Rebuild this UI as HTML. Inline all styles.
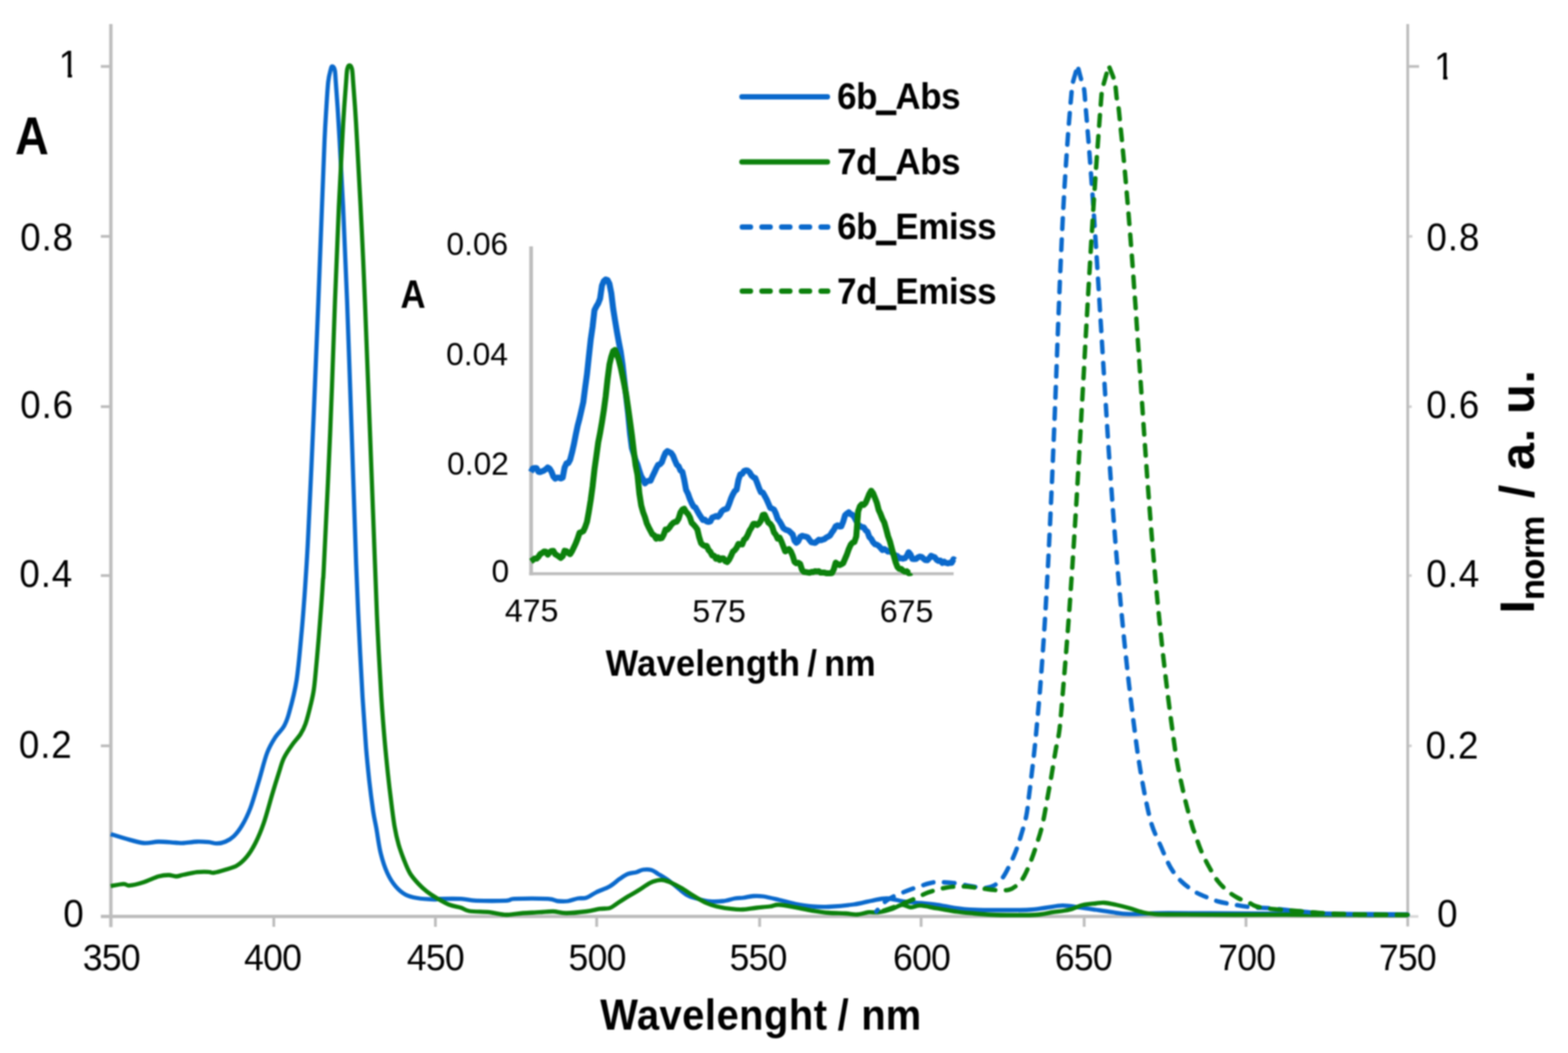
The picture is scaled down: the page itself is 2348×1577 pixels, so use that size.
<!DOCTYPE html>
<html lang="en"><head><meta charset="utf-8"><title>Absorption and emission spectra</title>
<style>
html,body{margin:0;padding:0;background:#fff;}
body{width:2348px;height:1577px;overflow:hidden;}
svg{display:block;filter:blur(1.30px);}
text{font-family:"Liberation Sans",Arial,Helvetica,sans-serif;fill:#000;}
.b{font-weight:bold;}
.ln{fill:none;stroke-linejoin:round;stroke-linecap:butt;}
.rd{stroke-linecap:round;}
</style></head><body>
<svg xmlns="http://www.w3.org/2000/svg" width="2348" height="1577" viewBox="0 0 2348 1577">
<rect x="-20" y="-20" width="2388" height="1617" fill="#fff"/>
<g stroke="#bdbdbd" stroke-width="5" fill="none">
<path d="M166.0 36V1388.5"/>
<path d="M151.0 1372.5H2108.0"/>
</g>
<g stroke="#bdbdbd" stroke-width="4.2" fill="none">
<path d="M2108.0 36V1387.5"/>
<path d="M410.0 1372.5v15.5"/>
<path d="M652.0 1372.5v15.5"/>
<path d="M893.5 1372.5v15.5"/>
<path d="M1137.5 1372.5v15.5"/>
<path d="M1379.3 1372.5v15.5"/>
<path d="M1623.5 1372.5v15.5"/>
<path d="M1865.8 1372.5v15.5"/>
<path d="M166.0 1117.0h-15"/>
<path d="M166.0 862.0h-15"/>
<path d="M166.0 609.0h-15"/>
<path d="M166.0 354.0h-15"/>
<path d="M166.0 99.5h-15"/>
</g>
<g stroke="#bdbdbd" stroke-width="4" fill="none">
<path d="M2108.0 1372.5h16" opacity="0.6"/>
<path d="M2108.0 1117.0h6" opacity="0.7"/>
<path d="M2108.0 862.0h6" opacity="0.7"/>
<path d="M2108.0 609.0h6" opacity="0.7"/>
<path d="M2108.0 354.0h7" opacity="0.7"/>
<path d="M2108.0 99.5h17" opacity="1.0"/>
</g>
<clipPath id="cpL1"><path d="M-39.95 -58.00H24.05V-5.68H-12.96V3H-19.69V-5.68H-39.95Z"/></clipPath>
<text id="L1" transform="translate(120.10 115.80) scale(0.950 1)" text-anchor="end" font-size="58.0" letter-spacing="1.70" clip-path="url(#cpL1)">1</text>
<text id="L08" transform="translate(110.75 375.00) scale(0.950 1)" text-anchor="end" font-size="58.0" letter-spacing="1.41">0.8</text>
<text id="L06" transform="translate(110.75 625.60) scale(0.950 1)" text-anchor="end" font-size="58.0" letter-spacing="1.41">0.6</text>
<text id="L04" transform="translate(109.50 879.00) scale(0.950 1)" text-anchor="end" font-size="58.0" letter-spacing="1.41">0.4</text>
<text id="L02" transform="translate(108.75 1134.80) scale(0.950 1)" text-anchor="end" font-size="58.0" letter-spacing="1.41">0.2</text>
<text id="L0" transform="translate(127.05 1388.00) scale(0.950 1)" text-anchor="end" font-size="58.0" letter-spacing="1.70">0</text>
<clipPath id="cpR1"><path d="M-6.00 -58.00H58.00V-5.68H21.00V3H14.27V-5.68H-6.00Z"/></clipPath>
<text id="R1" transform="translate(2147.50 118.85) scale(0.950 1)" text-anchor="start" font-size="58.0" letter-spacing="1.70" clip-path="url(#cpR1)">1</text>
<text id="R08" transform="translate(2136.05 375.00) scale(0.950 1)" text-anchor="start" font-size="58.0" letter-spacing="1.41">0.8</text>
<text id="R06" transform="translate(2135.80 625.85) scale(0.950 1)" text-anchor="start" font-size="58.0" letter-spacing="1.41">0.6</text>
<text id="R04" transform="translate(2135.80 878.50) scale(0.950 1)" text-anchor="start" font-size="58.0" letter-spacing="1.41">0.4</text>
<text id="R02" transform="translate(2134.65 1136.00) scale(0.950 1)" text-anchor="start" font-size="58.0" letter-spacing="1.41">0.2</text>
<text id="R0" transform="translate(2152.00 1388.00) scale(0.950 1)" text-anchor="start" font-size="58.0" letter-spacing="1.70">0</text>
<text id="x350" transform="translate(166.72 1453.00) scale(0.950 1)" text-anchor="middle" font-size="56.0" letter-spacing="-1.10">350</text>
<text id="x400" transform="translate(408.20 1453.00) scale(0.950 1)" text-anchor="middle" font-size="56.0" letter-spacing="-1.10">400</text>
<text id="x450" transform="translate(652.00 1453.00) scale(0.950 1)" text-anchor="middle" font-size="56.0" letter-spacing="-1.10">450</text>
<text id="x500" transform="translate(894.15 1453.00) scale(0.950 1)" text-anchor="middle" font-size="56.0" letter-spacing="-1.10">500</text>
<text id="x550" transform="translate(1135.30 1453.00) scale(0.950 1)" text-anchor="middle" font-size="56.0" letter-spacing="-1.10">550</text>
<text id="x600" transform="translate(1380.05 1453.00) scale(0.950 1)" text-anchor="middle" font-size="56.0" letter-spacing="-1.10">600</text>
<text id="x650" transform="translate(1622.28 1453.00) scale(0.950 1)" text-anchor="middle" font-size="56.0" letter-spacing="-1.10">650</text>
<text id="x700" transform="translate(1867.05 1453.00) scale(0.950 1)" text-anchor="middle" font-size="56.0" letter-spacing="-1.10">700</text>
<text id="x750" transform="translate(2107.50 1453.00) scale(0.950 1)" text-anchor="middle" font-size="56.0" letter-spacing="-1.10">750</text>
<text id="i006" transform="translate(761.00 382.28)" text-anchor="end" font-size="47.5">0.06</text>
<text id="i004" transform="translate(760.55 546.50)" text-anchor="end" font-size="47.5">0.04</text>
<text id="i002" transform="translate(762.00 711.28)" text-anchor="end" font-size="47.5">0.02</text>
<text id="i0" transform="translate(762.50 872.00)" text-anchor="end" font-size="47.5">0</text>
<text id="i475" transform="translate(796.10 931.30)" text-anchor="middle" font-size="48.0">475</text>
<text id="i575" transform="translate(1076.90 931.50)" text-anchor="middle" font-size="48.0">575</text>
<text id="i675" transform="translate(1357.60 931.50)" text-anchor="middle" font-size="48.0">675</text>
<text id="xtitle" class="b" transform="translate(898.70 1542.00) scale(0.935 1)" font-size="64" word-spacing="3.7"><tspan letter-spacing="0.75">Wavelenght</tspan><tspan dx="-5.3"> / </tspan><tspan dx="-1.4">nm</tspan></text>
<text id="rtitle" class="b" transform="translate(2297 919) rotate(-90)" font-size="73"><tspan>I</tspan><tspan font-size="52" dy="14.5" letter-spacing="-1.2">norm</tspan><tspan dy="-14.5" dx="6" letter-spacing="0.9"> / a. u.</tspan></text>
<text id="A" class="b" transform="translate(47.80 230.50) scale(0.875 1)" font-size="80" text-anchor="middle">A</text>
<path d="M795.3 369V861.5" stroke="#bdbdbd" stroke-width="5.6" fill="none"/>
<path d="M792.5 859.3H1428" stroke="#bdbdbd" stroke-width="4.6" fill="none"/>
<text id="ititle" class="b" transform="translate(907.00 1011.70) scale(0.935 1)" font-size="55" letter-spacing="-0.2"><tspan letter-spacing="0.5">Wavelength</tspan><tspan dx="-3.7"> / </tspan><tspan dx="-3.2">nm</tspan></text>
<text id="iA" class="b" transform="translate(618.60 460.50) scale(0.88 1)" font-size="59" text-anchor="middle">A</text>
<path class="ln" stroke="#0a69cc" stroke-width="9.0" d="M795.0 706.9L797.8 701.6L800.6 700.9L803.4 701.0L806.2 706.5L809.0 707.1L811.8 705.7L814.6 704.7L817.4 702.7L820.2 700.1L823.0 701.8L825.8 706.3L828.6 713.6L831.4 716.9L834.2 715.3L837.0 715.3L839.8 716.5L842.6 715.3L845.4 700.4L848.2 694.0L851.0 693.5L853.8 688.3L856.6 677.7L859.4 665.3L862.2 650.9L865.0 637.6L867.8 627.0L870.6 614.8L873.4 602.6L876.2 580.7L879.0 560.4L881.8 533.9L884.6 508.3L887.4 489.1L890.2 464.5L893.0 458.9L895.8 454.3L898.6 447.2L901.4 427.7L904.2 420.9L907.0 418.6L909.8 419.5L912.6 425.1L915.4 439.1L918.2 462.3L921.0 479.9L923.8 496.8L926.6 512.1L929.4 526.4L932.2 545.6L935.0 570.7L937.8 595.0L940.6 619.2L943.4 648.9L946.2 670.9L949.0 679.8L951.8 689.2L954.6 695.8L957.4 705.3L960.2 713.4L963.0 717.9L965.8 723.9L968.6 721.0L971.4 720.0L974.2 719.9L977.0 713.5L979.8 707.8L982.6 701.6L985.4 696.3L988.2 695.3L991.0 692.4L993.8 684.6L996.6 678.1L999.4 675.6L1002.2 677.0L1005.0 678.5L1007.8 682.3L1010.6 689.5L1013.4 695.8L1016.2 698.3L1019.0 704.7L1021.8 706.5L1024.6 718.6L1027.4 733.7L1030.2 739.3L1033.0 747.2L1035.8 753.5L1038.6 758.7L1041.4 760.1L1044.2 765.3L1047.0 770.2L1049.8 774.5L1052.6 778.8L1055.4 778.3L1058.2 780.8L1061.0 781.6L1063.8 780.7L1066.6 775.0L1069.4 774.2L1072.2 772.7L1075.0 773.9L1077.8 771.2L1080.6 766.0L1083.4 763.5L1086.2 762.7L1089.0 761.5L1091.8 754.8L1094.6 746.7L1097.4 740.4L1100.2 735.5L1103.0 733.4L1105.8 718.6L1108.6 710.3L1111.4 709.6L1114.2 705.5L1117.0 704.4L1119.8 705.0L1122.6 707.5L1125.4 712.2L1128.2 714.8L1131.0 716.0L1133.8 723.1L1136.6 730.8L1139.4 737.3L1142.2 737.4L1145.0 742.5L1147.8 747.6L1150.6 754.0L1153.4 760.5L1156.2 761.6L1159.0 763.1L1161.8 769.0L1164.6 777.3L1167.4 780.8L1170.2 785.6L1173.0 790.9L1175.8 792.9L1178.6 793.9L1181.4 795.1L1184.2 797.7L1187.0 800.5L1189.8 809.8L1192.6 812.9L1195.4 810.5L1198.2 804.3L1201.0 802.4L1203.8 803.1L1206.6 803.6L1209.4 804.7L1212.2 808.7L1215.0 812.1L1217.8 812.6L1220.6 813.1L1223.4 810.8L1226.2 808.2L1229.0 809.1L1231.8 808.2L1234.6 807.4L1237.4 805.0L1240.2 803.7L1243.0 801.9L1245.8 797.2L1248.6 793.5L1251.4 788.2L1254.2 786.7L1257.0 788.6L1259.8 788.2L1262.6 781.4L1265.4 771.8L1268.2 769.1L1271.0 767.2L1273.8 770.1L1276.6 771.1L1279.4 774.8L1282.2 780.0L1285.0 785.8L1287.8 787.7L1290.6 789.4L1293.4 789.8L1296.2 794.1L1299.0 796.5L1301.8 804.3L1304.6 807.0L1307.4 812.0L1310.2 815.1L1313.0 815.7L1315.8 817.5L1318.6 820.5L1321.4 823.7L1324.2 822.2L1327.0 824.0L1329.8 826.1L1332.6 825.7L1335.4 827.1L1338.2 830.0L1341.0 831.8L1343.8 832.8L1346.6 836.2L1349.4 835.9L1352.2 836.7L1355.0 836.0L1357.8 832.8L1360.6 827.0L1363.4 830.3L1366.2 837.1L1369.0 837.3L1371.8 837.1L1374.6 834.8L1377.4 833.5L1380.2 834.2L1383.0 836.7L1385.8 838.8L1388.6 839.0L1391.4 836.1L1394.2 832.4L1397.0 833.7L1399.8 834.6L1402.6 838.4L1405.4 840.1L1408.2 839.5L1411.0 843.0L1413.8 841.1L1416.6 843.0L1419.4 843.7L1422.2 842.8L1425.0 843.0L1427.8 837.4L1430.0 839.1"/>
<path class="ln" stroke="#0c810c" stroke-width="9.0" d="M795.0 840.7L797.8 838.8L800.6 836.5L803.4 836.6L806.2 834.0L809.0 829.7L811.8 828.2L814.6 826.0L817.4 826.3L820.2 830.7L823.0 827.2L825.8 825.2L828.6 825.0L831.4 829.9L834.2 831.6L837.0 833.5L839.8 835.5L842.6 833.0L845.4 824.9L848.2 825.4L851.0 828.1L853.8 829.9L856.6 825.4L859.4 819.6L862.2 813.6L865.0 806.5L867.8 798.0L870.6 796.8L873.4 795.5L876.2 789.5L879.0 781.4L881.8 765.9L884.6 748.6L887.4 728.1L890.2 702.9L893.0 683.2L895.8 662.6L898.6 648.3L901.4 632.3L904.2 614.4L907.0 593.5L909.8 567.7L912.6 546.1L915.4 534.1L918.2 525.8L921.0 524.1L923.8 530.9L926.6 538.6L929.4 549.8L932.2 563.0L935.0 576.8L937.8 591.9L940.6 610.9L943.4 630.8L946.2 651.7L949.0 675.3L951.8 696.8L954.6 711.2L957.4 739.1L960.2 757.0L963.0 767.0L965.8 774.5L968.6 783.9L971.4 789.8L974.2 795.1L977.0 800.3L979.8 801.8L982.6 806.8L985.4 804.1L988.2 806.4L991.0 805.9L993.8 800.8L996.6 793.1L999.4 793.3L1002.2 790.4L1005.0 786.2L1007.8 783.3L1010.6 781.8L1013.4 781.3L1016.2 776.6L1019.0 767.4L1021.8 763.2L1024.6 762.0L1027.4 766.8L1030.2 769.6L1033.0 774.6L1035.8 783.2L1038.6 785.7L1041.4 788.9L1044.2 792.8L1047.0 804.7L1049.8 813.5L1052.6 816.1L1055.4 817.7L1058.2 817.5L1061.0 823.6L1063.8 826.6L1066.6 832.0L1069.4 832.3L1072.2 837.0L1075.0 834.8L1077.8 838.8L1080.6 836.2L1083.4 836.2L1086.2 840.4L1089.0 841.8L1091.8 838.3L1094.6 832.8L1097.4 826.3L1100.2 824.0L1103.0 820.4L1105.8 814.5L1108.6 815.3L1111.4 815.3L1114.2 808.2L1117.0 806.0L1119.8 800.9L1122.6 794.4L1125.4 790.1L1128.2 784.4L1131.0 784.5L1133.8 786.3L1136.6 784.0L1139.4 779.9L1142.2 771.2L1145.0 770.8L1147.8 777.1L1150.6 782.8L1153.4 784.6L1156.2 788.6L1159.0 797.4L1161.8 800.8L1164.6 806.8L1167.4 805.1L1170.2 811.1L1173.0 818.3L1175.8 825.7L1178.6 824.2L1181.4 822.4L1184.2 825.8L1187.0 832.2L1189.8 841.5L1192.6 843.5L1195.4 842.8L1198.2 844.6L1201.0 853.4L1203.8 856.6L1206.6 856.7L1209.4 857.3L1212.2 857.7L1215.0 856.6L1217.8 856.7L1220.6 855.5L1223.4 855.9L1226.2 855.5L1229.0 857.6L1231.8 857.6L1234.6 857.6L1237.4 858.4L1240.2 858.4L1243.0 858.4L1245.8 858.2L1248.6 852.5L1251.4 842.6L1254.2 844.5L1257.0 846.3L1259.8 845.1L1262.6 843.4L1265.4 836.9L1268.2 830.4L1271.0 822.3L1273.8 816.0L1276.6 812.7L1279.4 811.8L1282.2 803.4L1285.0 766.1L1287.8 758.1L1290.6 755.2L1293.4 756.1L1296.2 753.1L1299.0 746.5L1301.8 739.5L1304.6 734.9L1307.4 738.6L1310.2 745.7L1313.0 752.9L1315.8 763.9L1318.6 769.8L1321.4 777.2L1324.2 782.5L1327.0 792.4L1329.8 803.0L1332.6 810.7L1335.4 821.3L1338.2 831.5L1341.0 841.6L1343.8 848.9L1346.6 852.0L1349.4 852.0L1352.2 854.6L1355.0 856.1L1357.8 855.6L1360.6 858.4L1363.4 858.3L1364.0 857.6"/>
<path class="ln" stroke="#0a69cc" stroke-width="6.3" d="M165.8 1249.2C169.4 1250.3 179.3 1253.5 187.5 1255.8C195.7 1258.0 206.7 1261.7 215.0 1262.5C223.3 1263.3 229.6 1260.6 237.5 1260.5C245.4 1260.4 256.2 1261.7 262.5 1262.0C268.8 1262.3 269.6 1262.8 275.0 1262.5C280.4 1262.2 288.8 1260.7 295.0 1260.5C301.2 1260.3 307.5 1260.8 312.5 1261.2C317.5 1261.7 320.8 1263.4 325.0 1263.2C329.2 1263.1 333.3 1262.3 337.5 1260.5C341.7 1258.7 345.8 1256.5 350.0 1252.5C354.2 1248.5 358.3 1243.3 362.5 1236.2C366.7 1229.2 370.8 1221.0 375.0 1210.0C379.2 1199.0 383.3 1183.8 387.5 1170.0C391.7 1156.2 395.8 1138.5 400.0 1127.5C404.2 1116.5 408.3 1110.3 412.5 1103.8C416.7 1097.2 421.7 1093.8 425.0 1088.0C428.3 1082.2 429.3 1080.5 432.5 1069.0C435.7 1057.5 440.9 1039.8 444.1 1019.0C447.3 998.2 449.9 964.8 451.9 944.0C453.8 923.2 454.6 910.7 455.9 894.0C457.1 877.3 458.2 859.7 459.2 844.0C460.1 828.3 460.5 823.7 461.6 800.0C462.8 776.3 464.6 739.2 466.2 702.0C467.9 664.8 469.9 618.7 471.6 577.0C473.3 535.3 474.9 496.5 476.7 452.0C478.4 407.5 480.5 350.3 482.1 310.0C483.6 269.7 484.9 235.0 486.0 210.0C487.1 185.0 487.9 174.6 488.8 160.0C489.7 145.4 490.5 131.7 491.5 122.5C492.5 113.3 494.0 108.8 495.0 105.0C496.0 101.2 496.4 99.5 497.5 99.5C498.6 99.5 500.4 101.2 501.3 105.0C502.2 108.8 502.1 113.3 502.8 122.5C503.4 131.7 504.5 145.4 505.5 160.0C506.4 174.6 507.1 185.0 508.5 210.0C509.9 235.0 511.9 269.7 513.8 310.0C515.6 350.3 517.7 395.8 519.8 452.0C522.0 508.2 524.3 581.7 526.6 647.0C528.8 712.3 531.5 794.5 533.3 844.0C535.2 893.5 536.0 910.7 537.6 944.0C539.2 977.3 541.2 1014.8 542.9 1044.0C544.7 1073.2 546.5 1098.2 548.1 1119.0C549.8 1139.8 551.2 1153.0 552.9 1169.0C554.7 1185.0 557.1 1203.2 558.8 1215.0C560.6 1226.8 561.6 1229.6 563.5 1240.0C565.4 1250.4 567.2 1266.2 570.0 1277.5C572.8 1288.8 576.2 1299.2 580.0 1307.5C583.8 1315.8 587.9 1322.1 592.5 1327.5C597.1 1332.9 602.1 1337.1 607.5 1340.0C612.9 1342.9 617.9 1343.8 625.0 1345.0C632.1 1346.2 644.5 1346.8 650.0 1347.0C655.5 1347.2 651.2 1346.4 658.0 1346.2C664.8 1346.1 681.3 1345.8 690.5 1346.2C699.7 1346.7 701.8 1348.3 713.0 1348.8C724.2 1349.2 748.4 1349.2 758.0 1348.8C767.6 1348.3 760.1 1346.7 770.5 1346.2C780.9 1345.8 809.7 1345.7 820.5 1346.2C831.3 1346.8 830.5 1349.0 835.5 1349.5C840.5 1350.0 845.5 1350.2 850.5 1349.5C855.5 1348.8 860.9 1346.3 865.5 1345.5C870.1 1344.7 873.4 1346.0 878.0 1344.5C882.6 1343.0 887.2 1339.1 893.0 1336.2C898.8 1333.4 907.2 1330.8 913.0 1327.5C918.8 1324.2 923.4 1319.4 928.0 1316.2C932.6 1313.1 936.3 1310.4 940.5 1308.8C944.7 1307.1 949.2 1307.3 953.0 1306.2C956.8 1305.2 959.2 1303.0 963.0 1302.5C966.8 1302.0 971.8 1302.0 975.5 1303.0C979.2 1304.0 980.9 1305.9 985.5 1308.8C990.1 1311.6 995.9 1314.8 1003.0 1320.0C1010.1 1325.2 1020.9 1335.6 1028.0 1340.0C1035.1 1344.4 1039.7 1344.6 1045.5 1346.2C1051.3 1347.9 1056.8 1349.5 1063.0 1350.0C1069.2 1350.5 1076.8 1350.2 1083.0 1349.5C1089.2 1348.8 1095.5 1346.3 1100.5 1345.5C1105.5 1344.7 1108.4 1345.1 1113.0 1344.5C1117.6 1343.9 1123.0 1342.3 1128.0 1342.0C1133.0 1341.7 1136.7 1341.6 1143.0 1342.5C1149.3 1343.4 1158.0 1345.6 1166.0 1347.5C1174.0 1349.4 1182.7 1352.1 1191.0 1353.8C1199.3 1355.4 1207.7 1356.8 1216.0 1357.5C1224.3 1358.2 1230.6 1358.5 1241.0 1358.0C1251.4 1357.5 1267.7 1356.0 1278.5 1354.5C1289.3 1353.0 1297.7 1350.2 1306.0 1348.8C1314.3 1347.2 1320.6 1345.3 1328.5 1345.5C1336.4 1345.7 1345.2 1348.8 1353.5 1350.0C1361.8 1351.2 1370.2 1351.7 1378.5 1352.5C1386.8 1353.3 1395.2 1353.8 1403.5 1355.0C1411.8 1356.2 1419.3 1358.2 1428.5 1359.5C1437.7 1360.8 1446.0 1361.9 1458.5 1362.5C1471.0 1363.1 1489.8 1363.0 1503.5 1363.0C1517.2 1363.0 1530.6 1363.1 1541.0 1362.5C1551.4 1361.9 1557.7 1360.5 1566.0 1359.5C1574.3 1358.5 1582.7 1356.4 1591.0 1356.2C1599.3 1356.1 1607.7 1357.7 1616.0 1358.8C1624.3 1359.8 1632.7 1361.2 1641.0 1362.5C1649.3 1363.8 1657.7 1365.2 1666.0 1366.2C1674.3 1367.3 1677.2 1368.5 1691.0 1368.8C1704.8 1369.0 1722.5 1367.6 1749.0 1367.5C1775.5 1367.4 1816.5 1367.8 1850.0 1368.0C1883.5 1368.2 1916.7 1368.3 1950.0 1368.5C1983.3 1368.7 2023.7 1368.8 2050.0 1369.0C2076.3 1369.2 2098.3 1369.4 2108.0 1369.5"/>
<path class="ln" stroke="#0c810c" stroke-width="6.3" d="M165.8 1327.0C169.0 1326.5 180.3 1323.9 185.0 1323.8C189.7 1323.6 188.8 1326.7 193.8 1326.2C198.8 1325.8 207.7 1323.5 215.0 1321.2C222.3 1319.0 231.2 1314.3 237.5 1312.5C243.8 1310.7 248.1 1310.5 252.5 1310.5C256.9 1310.5 260.0 1312.6 263.8 1312.5C267.5 1312.4 269.8 1311.0 275.0 1310.0C280.2 1309.0 288.8 1307.0 295.0 1306.2C301.2 1305.5 308.3 1305.6 312.5 1305.8C316.7 1305.9 315.8 1307.5 320.0 1307.0C324.2 1306.5 331.7 1304.3 337.5 1302.5C343.3 1300.7 349.6 1299.6 355.0 1296.2C360.4 1292.9 365.4 1288.1 370.0 1282.5C374.6 1276.9 378.3 1270.8 382.5 1262.5C386.7 1254.2 390.8 1244.6 395.0 1232.5C399.2 1220.4 403.8 1202.5 407.5 1190.0C411.2 1177.5 414.6 1166.6 417.5 1157.5C420.4 1148.4 421.7 1142.5 425.0 1135.5C428.3 1128.5 433.3 1121.5 437.5 1115.5C441.7 1109.5 446.7 1104.8 450.0 1099.5C453.3 1094.2 455.0 1091.2 457.5 1084.0C460.0 1076.8 462.9 1065.2 465.0 1056.5C467.1 1047.8 468.7 1041.9 470.1 1031.5C471.6 1021.1 472.7 1006.5 473.9 994.0C475.0 981.5 476.0 971.1 477.2 956.5C478.4 941.9 480.0 921.1 481.1 906.5C482.2 891.9 483.0 879.4 483.6 869.0C484.3 858.6 483.4 880.8 485.2 844.0C487.0 807.2 491.7 713.3 494.4 648.0C497.2 582.7 499.5 508.3 501.6 452.0C503.8 395.7 505.6 350.3 507.4 310.0C509.2 269.7 511.1 235.0 512.5 210.0C513.8 185.0 514.5 174.6 515.5 160.0C516.5 145.4 517.5 131.9 518.3 122.5C519.0 113.1 519.1 107.6 520.0 103.5C520.8 99.4 522.1 97.8 523.3 97.8C524.5 97.8 526.2 99.4 527.1 103.5C528.0 107.6 528.1 113.1 528.8 122.5C529.6 131.9 530.6 145.4 531.6 160.0C532.6 174.6 533.3 185.0 534.6 210.0C536.0 235.0 538.0 269.7 540.0 310.0C541.9 350.3 542.9 363.0 546.5 452.0C550.1 541.0 558.3 762.0 561.5 844.0C564.7 926.0 563.9 910.7 565.5 944.0C567.1 977.3 569.3 1016.3 571.0 1044.0C572.8 1071.7 574.4 1090.7 576.1 1110.0C577.8 1129.3 579.5 1145.8 581.0 1160.0C582.5 1174.2 583.4 1182.0 585.1 1195.0C586.7 1208.0 588.9 1226.3 590.9 1238.0C592.9 1249.7 594.6 1256.7 597.0 1265.0C599.4 1273.3 602.2 1280.8 605.0 1288.0C607.8 1295.2 610.4 1302.1 614.0 1308.0C617.6 1313.9 622.3 1319.0 626.5 1323.5C630.7 1328.0 634.4 1331.4 639.0 1335.0C643.6 1338.6 648.3 1341.7 654.0 1345.0C659.7 1348.3 666.9 1352.6 673.0 1355.0C679.1 1357.4 685.5 1357.9 690.5 1359.5C695.5 1361.1 695.9 1363.4 703.0 1364.5C710.1 1365.6 723.8 1365.3 733.0 1366.2C742.2 1367.2 749.7 1369.8 758.0 1370.0C766.3 1370.2 774.7 1368.1 783.0 1367.5C791.3 1366.9 800.5 1366.7 808.0 1366.2C815.5 1365.8 821.3 1364.8 828.0 1365.0C834.7 1365.2 839.7 1367.5 848.0 1367.5C856.3 1367.5 869.7 1366.0 878.0 1365.0C886.3 1364.0 892.2 1362.1 898.0 1361.2C903.8 1360.4 908.8 1361.2 913.0 1360.0C917.2 1358.8 918.4 1356.7 923.0 1353.8C927.6 1350.8 935.1 1345.8 940.5 1342.5C945.9 1339.2 950.1 1337.1 955.5 1333.8C960.9 1330.4 968.4 1325.0 973.0 1322.5C977.6 1320.0 979.7 1319.5 983.0 1318.8C986.3 1318.0 989.7 1317.6 993.0 1318.0C996.3 1318.4 998.4 1319.2 1003.0 1321.2C1007.6 1323.2 1014.7 1326.7 1020.5 1330.0C1026.3 1333.3 1031.8 1337.5 1038.0 1341.2C1044.2 1345.0 1052.2 1349.8 1058.0 1352.5C1063.8 1355.2 1066.8 1356.0 1073.0 1357.5C1079.2 1359.0 1088.8 1360.5 1095.5 1361.2C1102.2 1362.0 1106.8 1362.3 1113.0 1362.0C1119.2 1361.7 1126.3 1360.2 1133.0 1359.5C1139.7 1358.8 1147.5 1358.2 1153.0 1357.5C1158.5 1356.8 1159.7 1354.8 1166.0 1355.0C1172.3 1355.2 1182.7 1357.3 1191.0 1358.8C1199.3 1360.2 1207.7 1362.4 1216.0 1363.8C1224.3 1365.1 1232.7 1366.3 1241.0 1367.0C1249.3 1367.7 1258.9 1367.6 1266.0 1368.0C1273.1 1368.4 1277.7 1369.8 1283.5 1369.5C1289.3 1369.2 1295.6 1366.8 1301.0 1366.2C1306.4 1365.7 1310.2 1367.1 1316.0 1366.2C1321.8 1365.4 1330.2 1363.1 1336.0 1361.2C1341.8 1359.4 1346.4 1355.4 1351.0 1355.0C1355.6 1354.6 1358.9 1358.5 1363.5 1358.8C1368.1 1359.0 1371.8 1356.0 1378.5 1356.2C1385.2 1356.5 1394.3 1359.0 1403.5 1360.5C1412.7 1362.0 1424.3 1364.2 1433.5 1365.5C1442.7 1366.8 1449.8 1367.2 1458.5 1368.0C1467.2 1368.8 1476.4 1369.6 1486.0 1370.0C1495.6 1370.4 1505.2 1370.5 1516.0 1370.5C1526.8 1370.5 1541.0 1370.7 1551.0 1370.0C1561.0 1369.3 1567.7 1367.5 1576.0 1366.2C1584.3 1365.0 1593.5 1364.3 1601.0 1362.5C1608.5 1360.7 1614.3 1357.1 1621.0 1355.5C1627.7 1353.9 1635.6 1353.6 1641.0 1353.0C1646.4 1352.4 1648.5 1351.7 1653.5 1352.0C1658.5 1352.3 1664.8 1353.7 1671.0 1355.0C1677.2 1356.3 1684.3 1358.1 1691.0 1360.0C1697.7 1361.9 1704.8 1364.8 1711.0 1366.2C1717.2 1367.7 1722.2 1368.2 1728.5 1368.8C1734.8 1369.3 1728.8 1369.3 1749.0 1369.5C1769.2 1369.7 1816.5 1369.9 1850.0 1370.0C1883.5 1370.1 1916.7 1369.9 1950.0 1370.0C1983.3 1370.1 2023.7 1370.4 2050.0 1370.5C2076.3 1370.6 2098.3 1370.5 2108.0 1370.5"/>
<path class="ln rd" stroke="#0a69cc" stroke-width="6.6" stroke-dasharray="15.80 15.80" d="M1611.2 107.2C1610.3 110.5 1606.7 122.2 1605.6 127.2C1604.5 132.2 1605.1 132.3 1604.7 137.5C1604.2 142.7 1603.3 153.0 1602.8 158.3C1602.4 163.7 1602.3 164.2 1601.9 169.6C1601.4 174.9 1600.6 185.2 1600.2 190.4C1599.8 195.6 1599.8 195.6 1599.4 200.8C1599.0 206.0 1598.4 214.1 1597.9 221.5C1597.4 228.9 1596.9 235.7 1596.3 245.0C1595.7 254.3 1594.9 266.7 1594.2 277.5C1593.6 288.3 1593.0 299.2 1592.4 310.0C1591.8 320.8 1591.5 326.2 1590.7 342.5C1589.9 358.8 1588.6 387.6 1587.7 407.5C1586.8 427.4 1586.1 447.5 1585.5 462.0C1584.9 476.5 1584.8 478.7 1584.2 494.5C1583.6 510.3 1582.7 535.8 1581.9 557.0C1581.1 578.2 1580.2 600.8 1579.4 622.0C1578.5 643.2 1577.7 663.7 1576.8 684.5C1576.0 705.3 1575.1 726.2 1574.1 747.0C1573.2 767.8 1572.0 793.3 1571.2 809.5C1570.4 825.7 1570.3 828.2 1569.5 844.0C1568.6 859.8 1567.4 883.2 1566.2 904.0C1565.0 924.8 1563.6 947.3 1562.1 969.0C1560.6 990.7 1558.9 1013.8 1557.3 1034.0C1555.6 1054.2 1553.7 1075.2 1552.3 1090.0C1551.0 1104.8 1550.2 1112.1 1549.1 1122.5C1548.0 1132.9 1547.1 1141.2 1545.7 1152.5C1544.4 1163.8 1542.6 1178.3 1541.1 1190.0C1539.6 1201.7 1538.8 1212.1 1536.7 1222.5C1534.6 1232.9 1531.1 1243.8 1528.5 1252.5C1525.9 1261.2 1523.9 1267.5 1521.0 1275.0C1518.1 1282.5 1514.3 1290.8 1511.0 1297.5C1507.7 1304.2 1504.8 1310.2 1501.0 1315.0C1497.2 1319.8 1493.1 1323.8 1488.5 1326.2C1483.9 1328.8 1479.3 1329.9 1473.5 1330.0C1467.7 1330.1 1461.0 1328.2 1453.5 1327.0C1446.0 1325.8 1436.8 1323.5 1428.5 1322.5C1420.2 1321.5 1409.8 1321.2 1403.5 1321.2C1397.2 1321.3 1397.2 1321.3 1391.0 1323.0C1384.8 1324.7 1374.3 1328.2 1366.0 1331.2C1357.7 1334.3 1347.7 1338.1 1341.0 1341.2C1334.3 1344.4 1330.8 1346.0 1326.0 1350.0C1321.2 1354.0 1314.5 1362.5 1312.2 1365.0"/>
<path class="ln rd" stroke="#0a69cc" stroke-width="6.6" stroke-dasharray="15.80 15.80" d="M1614.8 103.2C1615.7 106.6 1618.8 118.3 1620.2 123.4C1621.6 128.5 1622.6 128.6 1623.4 133.8C1624.2 139.0 1624.8 149.3 1625.2 154.5C1625.7 159.7 1625.7 159.7 1626.1 164.9C1626.6 170.1 1627.4 180.5 1627.9 185.7C1628.3 190.9 1628.3 190.7 1628.7 196.0C1629.1 201.3 1629.9 210.4 1630.5 217.7C1631.0 225.0 1631.5 230.9 1632.2 240.0C1632.9 249.1 1633.8 261.7 1634.6 272.5C1635.4 283.3 1636.2 294.6 1636.9 305.0C1637.6 315.4 1638.3 325.0 1638.9 335.0C1639.6 345.0 1640.2 354.6 1640.9 365.0C1641.6 375.4 1642.3 386.2 1643.0 397.5C1643.7 408.8 1644.5 421.8 1645.2 432.5C1645.9 443.2 1646.4 452.1 1647.0 462.0C1647.6 471.9 1647.9 476.6 1648.9 492.0C1649.8 507.4 1651.4 533.7 1652.7 554.5C1654.0 575.3 1655.3 596.2 1656.6 617.0C1657.9 637.8 1659.2 658.7 1660.6 679.5C1662.0 700.3 1663.5 721.2 1665.0 742.0C1666.5 762.8 1668.3 787.5 1669.7 804.5C1671.0 821.5 1671.5 827.8 1672.9 844.0C1674.2 860.2 1676.1 881.5 1677.9 901.5C1679.8 921.5 1681.9 943.6 1684.0 964.0C1686.1 984.4 1688.3 1004.4 1690.5 1024.0C1692.8 1043.6 1695.1 1062.3 1697.5 1081.5C1700.0 1100.7 1702.3 1120.2 1705.3 1139.0C1708.2 1157.8 1711.7 1177.8 1715.0 1194.0C1718.3 1210.2 1721.1 1223.7 1725.0 1236.0C1728.9 1248.3 1734.5 1258.7 1738.5 1268.0C1742.5 1277.3 1746.0 1285.8 1749.0 1292.0C1752.0 1298.2 1753.2 1300.3 1756.5 1305.0C1759.8 1309.7 1764.0 1315.2 1769.0 1320.0C1774.0 1324.8 1780.7 1330.0 1786.5 1333.8C1792.3 1337.5 1797.8 1339.8 1804.0 1342.5C1810.2 1345.2 1816.5 1347.9 1824.0 1350.0C1831.5 1352.1 1840.7 1353.5 1849.0 1355.0C1857.3 1356.5 1865.7 1357.9 1874.0 1358.8C1882.3 1359.6 1890.7 1359.4 1899.0 1360.0C1907.3 1360.6 1915.7 1361.7 1924.0 1362.5C1932.3 1363.3 1940.7 1364.2 1949.0 1365.0C1957.3 1365.8 1965.7 1366.9 1974.0 1367.5C1982.3 1368.1 1986.5 1368.4 1999.0 1368.8C2011.5 1369.1 2030.8 1369.3 2049.0 1369.5C2067.2 1369.7 2098.2 1369.9 2108.0 1370.0"/>
<path class="ln rd" stroke="#0c810c" stroke-width="6.6" stroke-dasharray="15.80 15.80" d="M1657.0 110.3C1656.2 113.1 1653.5 122.7 1652.3 127.2C1651.1 131.7 1650.6 132.3 1649.9 137.5C1649.2 142.7 1648.7 153.0 1648.2 158.3C1647.8 163.7 1647.8 164.2 1647.3 169.6C1646.9 174.9 1646.1 185.2 1645.8 190.4C1645.4 195.6 1645.4 195.6 1645.0 200.8C1644.6 206.0 1644.0 214.1 1643.5 221.5C1642.9 228.9 1642.4 235.7 1641.8 245.0C1641.1 254.3 1640.3 266.7 1639.6 277.5C1638.8 288.3 1638.1 299.2 1637.4 310.0C1636.7 320.8 1636.0 332.1 1635.4 342.5C1634.7 352.9 1634.1 362.1 1633.5 372.5C1632.9 382.9 1632.2 394.6 1631.6 405.0C1630.9 415.4 1630.4 425.5 1629.8 435.0C1629.3 444.5 1628.8 452.1 1628.3 462.0C1627.7 471.9 1627.3 478.7 1626.4 494.5C1625.5 510.3 1624.1 535.8 1623.0 557.0C1621.8 578.2 1620.5 600.8 1619.3 622.0C1618.2 643.2 1617.0 663.7 1615.8 684.5C1614.6 705.3 1613.4 726.2 1612.2 747.0C1610.9 767.8 1609.3 793.3 1608.3 809.5C1607.3 825.7 1607.1 828.2 1606.1 844.0C1605.0 859.8 1603.4 883.2 1602.0 904.0C1600.5 924.8 1598.8 947.3 1597.1 969.0C1595.4 990.7 1593.5 1013.5 1591.8 1034.0C1590.0 1054.5 1588.4 1077.2 1586.6 1092.0C1584.8 1106.8 1583.0 1111.2 1581.0 1122.5C1579.0 1133.8 1576.8 1147.9 1574.8 1160.0C1572.7 1172.1 1570.8 1182.5 1568.5 1195.0C1566.2 1207.5 1563.7 1223.3 1561.0 1235.0C1558.3 1246.7 1555.2 1255.8 1552.2 1265.0C1549.3 1274.2 1546.6 1282.1 1543.5 1290.0C1540.4 1297.9 1536.8 1306.7 1533.5 1312.5C1530.2 1318.3 1527.2 1321.7 1523.5 1325.0C1519.8 1328.3 1516.4 1331.2 1511.0 1332.5C1505.6 1333.8 1498.5 1333.4 1491.0 1333.0C1483.5 1332.6 1474.3 1330.9 1466.0 1330.0C1457.7 1329.1 1449.3 1327.6 1441.0 1327.5C1432.7 1327.4 1424.3 1328.0 1416.0 1329.5C1407.7 1331.0 1399.3 1333.2 1391.0 1336.2C1382.7 1339.2 1374.3 1344.0 1366.0 1347.5C1357.7 1351.0 1349.3 1354.4 1341.0 1357.5C1332.7 1360.6 1320.2 1364.8 1316.0 1366.2"/>
<path class="ln rd" stroke="#0c810c" stroke-width="6.6" stroke-dasharray="15.80 15.80" d="M1661.4 101.2C1662.5 104.0 1666.3 113.2 1667.8 117.7C1669.3 122.2 1669.4 122.9 1670.2 128.1C1671.0 133.3 1671.7 143.7 1672.5 148.9C1673.3 154.1 1674.0 153.9 1674.7 159.2C1675.5 164.5 1676.5 175.7 1677.0 180.9C1677.6 186.1 1677.5 185.2 1678.0 190.4C1678.5 195.6 1679.5 204.7 1680.2 212.1C1680.9 219.5 1681.5 225.8 1682.4 235.0C1683.3 244.2 1684.5 257.1 1685.4 267.5C1686.3 277.9 1687.1 287.1 1688.0 297.5C1688.9 307.9 1689.9 319.2 1690.7 330.0C1691.6 340.8 1692.5 351.7 1693.3 362.5C1694.1 373.3 1695.0 384.2 1695.8 395.0C1696.6 405.8 1697.5 418.0 1698.1 427.5C1698.8 437.0 1699.2 442.5 1699.9 452.0C1700.6 461.5 1701.1 468.7 1702.1 484.5C1703.2 500.3 1705.0 526.2 1706.4 547.0C1707.8 567.8 1709.2 588.7 1710.6 609.5C1712.0 630.3 1713.4 651.2 1714.9 672.0C1716.3 692.8 1717.8 713.7 1719.4 734.5C1720.9 755.3 1722.9 779.9 1724.2 797.0C1725.6 814.1 1726.2 820.8 1727.6 837.0C1729.0 853.2 1730.8 874.1 1732.7 894.0C1734.6 913.9 1736.8 935.7 1739.0 956.5C1741.2 977.3 1743.6 998.2 1746.1 1019.0C1748.6 1039.8 1751.3 1061.5 1754.0 1081.5C1756.8 1101.5 1759.0 1120.2 1762.3 1139.0C1765.6 1157.8 1770.0 1177.8 1773.8 1194.0C1777.5 1210.2 1782.5 1227.1 1785.0 1236.0C1787.5 1244.9 1786.7 1241.0 1789.0 1247.5C1791.3 1254.0 1795.2 1266.2 1799.0 1275.0C1802.8 1283.8 1807.3 1292.5 1811.5 1300.0C1815.7 1307.5 1819.4 1314.2 1824.0 1320.0C1828.6 1325.8 1834.0 1330.8 1839.0 1335.0C1844.0 1339.2 1849.0 1342.3 1854.0 1345.0C1859.0 1347.7 1864.4 1349.2 1869.0 1351.2C1873.6 1353.3 1875.7 1355.8 1881.5 1357.5C1887.3 1359.2 1894.8 1360.2 1904.0 1361.2C1913.2 1362.3 1924.8 1362.8 1936.5 1363.8C1948.2 1364.7 1961.5 1366.2 1974.0 1367.0C1986.5 1367.8 1999.0 1368.3 2011.5 1368.8C2024.0 1369.2 2032.9 1369.3 2049.0 1369.5C2065.1 1369.7 2098.2 1369.9 2108.0 1370.0"/>
<path class="ln rd" stroke="#0a69cc" stroke-width="8" d="M1111.0 145.0H1239.0"/>
<text id="leg0" class="b" transform="translate(1253.50 163.00) scale(0.935 1)" font-size="56" letter-spacing="-0.75">6b<tspan dx="1.0" textLength="27" lengthAdjust="spacingAndGlyphs" stroke="#000" stroke-width="4.8" stroke-linejoin="miter">_</tspan><tspan dx="1.6">Abs</tspan></text>
<path class="ln rd" stroke="#0c810c" stroke-width="8" d="M1111.0 242.5H1239.0"/>
<text id="leg1" class="b" transform="translate(1253.50 261.00) scale(0.935 1)" font-size="56" letter-spacing="-0.75">7d<tspan dx="1.0" textLength="27" lengthAdjust="spacingAndGlyphs" stroke="#000" stroke-width="4.8" stroke-linejoin="miter">_</tspan><tspan dx="1.6">Abs</tspan></text>
<path class="ln rd" stroke="#0a69cc" stroke-width="8" stroke-dasharray="12.3 17.2" d="M1111.5 340.0H1239.5"/>
<text id="leg2" class="b" transform="translate(1253.50 357.50) scale(0.935 1)" font-size="56" letter-spacing="-0.75">6b<tspan dx="1.0" textLength="27" lengthAdjust="spacingAndGlyphs" stroke="#000" stroke-width="4.8" stroke-linejoin="miter">_</tspan><tspan dx="1.6">Emiss</tspan></text>
<path class="ln rd" stroke="#0c810c" stroke-width="8" stroke-dasharray="12.3 17.2" d="M1111.5 436.0H1239.5"/>
<text id="leg3" class="b" transform="translate(1253.50 454.75) scale(0.935 1)" font-size="56" letter-spacing="-0.75">7d<tspan dx="1.0" textLength="27" lengthAdjust="spacingAndGlyphs" stroke="#000" stroke-width="4.8" stroke-linejoin="miter">_</tspan><tspan dx="1.6">Emiss</tspan></text>
</svg></body></html>
